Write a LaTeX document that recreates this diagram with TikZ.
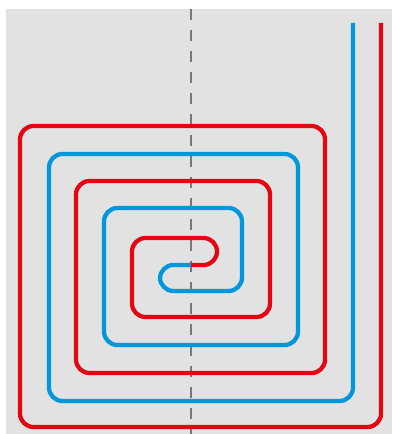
\documentclass[tikz,border=0pt]{standalone}
\usepackage{tikz}
\usepackage{xcolor}
\definecolor{flowcolor}{RGB}{227,6,19}
\definecolor{returncolor}{RGB}{0,152,218}
\definecolor{floorcolor}{RGB}{226,226,226}
\definecolor{axiscolor}{RGB}{120,120,120}

\begin{document}
\begin{tikzpicture}[
  x=0.75pt, y=-0.75pt,
  pipe/.style={line width=3.2pt, rounded corners=10.1pt, line cap=butt},
  flowpipe/.style={pipe, draw=flowcolor},
  returnpipe/.style={pipe, draw=returncolor},
  axisline/.style={draw=axiscolor, line width=1.5pt,
                   dash pattern=on 8.25pt off 7.5pt}
]
\useasboundingbox (0,0) rectangle (392,434);

% Floor
\fill[floorcolor] (6,9) rectangle (392,434);

% Symmetry axis
\coordinate (axtop) at (191,9);
\coordinate (axbot) at (191,434);
\draw[axisline] (axtop) -- (axbot);

% Pipe ends
\coordinate (flowin) at (381,23);
\coordinate (returnout) at (353,23);
\coordinate (mid) at (191,265);

% Flow (red)
\draw[flowpipe] (flowin) -- (381,427) -- (20,427) -- (20,126)
  -- (325,126) -- (325,373) -- (76,373) -- (76,181)
  -- (270,181) -- (270,317) -- (132,317) -- (132,238)
  -- (217,238) -- (217,265) -- (mid);

% Return (blue)
\draw[returnpipe] (returnout) -- (353,401) -- (49,401) -- (49,154)
  -- (298,154) -- (298,345) -- (104,345) -- (104,208)
  -- (242,208) -- (242,291) -- (160,291) -- (160,265) -- (mid);

\end{tikzpicture}
\end{document}
